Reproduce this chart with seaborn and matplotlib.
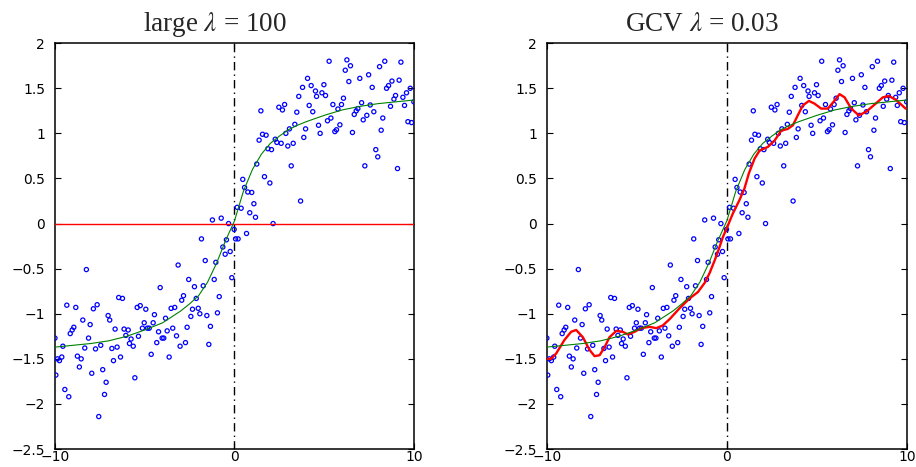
import numpy as np
import pandas as pd
import matplotlib
matplotlib.use("Agg")
import matplotlib.pyplot as plt
import seaborn as sns

# ---------------- data ----------------
pts_x = [
    -8.25, -9.34, -8.84, -7.65, -7.86, -6.45, -6.24, -5.42, -5.25, -4.94,
    -7.04, -6.95, -8.45, -8.04, -8.95, -9.04, -9.15, -10.0, -9.56, -8.13,
    -6.65, -6.15, -5.92, -5.03, -5.13, -4.85, -6.05, -5.35, -5.76, -5.85,
    -5.64, -7.45, -8.34, -7.74, -6.83, -6.54, -9.86, -9.75, -9.62, -8.75,
    -8.54, -6.35, -6.74, -8.64, -7.34, -7.95, -9.95, -7.15, -5.55, -9.45,
    -9.23, -7.24, -7.56,
    -1.23, -0.74, -0.33, -0.02, 0.20, 0.06, -1.84, -0.45, -0.65, -0.24,
    -0.52, -1.63, -1.04, -3.14, -0.15, -2.55, -1.13, -4.14, -2.23, -1.74,
    -2.84, -0.85, -2.94, -2.13, -3.53, -3.33, -2.34, -2.02, -0.95, -4.46,
    -1.93, -1.54, -3.84, -2.43, -4.53, -4.75, -4.23, -3.75, -3.44, -2.64,
    -1.34, -3.23, -4.03, -3.94, -4.33, -2.73, -3.03, -1.43, -4.64, -3.64,
    2.79, 2.47, 2.67, 1.47, 3.47, 4.16, 4.36, 3.36, 4.68, 3.96,
    3.06, 2.86, 1.56, 1.76, 4.77, 3.86, 2.27, 1.37, 2.36, 2.60,
    3.27, 2.97, 1.86, 2.06, 1.24, 3.16, 1.67, 0.46, 1.97, 0.56,
    0.74, 0.96, 3.68, 1.08, 0.15, 0.37, 0.85, 1.17, 2.15, 0.67,
    5.27, 6.26, 6.46, 6.17, 8.37, 8.08, 9.27, 7.47, 6.37, 6.98,
    4.98, 8.77, 9.17, 8.58, 8.47, 7.67, 9.79, 4.51, 4.87, 4.57,
    5.07, 6.07, 8.97, 8.88, 9.38, 9.58, 9.99, 7.08, 5.48, 5.96,
    7.56, 9.47, 8.69, 6.87, 5.76, 6.78, 7.76, 6.67, 7.37, 8.26,
    5.37, 5.18, 7.17, 9.66, 9.86, 5.87, 5.68, 5.59, 6.57, 8.17,
    7.87, 7.98, 7.26, 9.08, 4.07, 3.79, 4.27, 3.58,
]
pts_y = [
    -0.51, -0.905, -0.93, -0.90, -0.945, -0.82, -0.83, -0.93, -0.91, -0.95,
    -1.02, -1.07, -1.07, -1.12, -1.15, -1.18, -1.22, -1.27, -1.36, -1.27,
    -1.17, -1.17, -1.18, -1.10, -1.16, -1.16, -1.24, -1.25, -1.28, -1.33,
    -1.36, -1.35, -1.38, -1.39, -1.385, -1.37, -1.50, -1.52, -1.48, -1.47,
    -1.50, -1.48, -1.52, -1.59, -1.62, -1.66, -1.68, -1.76, -1.71, -1.84,
    -1.92, -1.895, -2.14,
    0.04, 0.06, 0.00, -0.065, -0.17, -0.17, -0.17, -0.18, -0.26, -0.31,
    -0.34, -0.41, -0.43, -0.46, -0.60, -0.62, -0.62, -0.71, -0.70, -0.69,
    -0.80, -0.81, -0.85, -0.83, -0.94, -0.93, -0.95, -0.94, -0.99, -1.01,
    -1.00, -1.02, -1.05, -1.03, -1.10, -1.16, -1.20, -1.19, -1.16, -1.15,
    -1.14, -1.245, -1.27, -1.27, -1.32, -1.32, -1.36, -1.34, -1.45, -1.48,
    1.32, 1.29, 1.26, 1.25, 1.235, 1.31, 1.24, 1.10, 1.09, 1.05,
    1.05, 1.00, 0.99, 0.98, 1.00, 0.955, 0.935, 0.925, 0.90, 0.89,
    0.89, 0.86, 0.83, 0.82, 0.66, 0.64, 0.52, 0.49, 0.45, 0.40,
    0.35, 0.345, 0.25, 0.22, 0.18, 0.17, 0.12, 0.07, 0.00, -0.11,
    1.80, 1.815, 1.75, 1.70, 1.80, 1.74, 1.79, 1.65, 1.575, 1.61,
    1.54, 1.58, 1.59, 1.53, 1.50, 1.51, 1.50, 1.47, 1.45, 1.41,
    1.42, 1.39, 1.42, 1.38, 1.40, 1.45, 1.35, 1.34, 1.32, 1.32,
    1.315, 1.31, 1.30, 1.275, 1.27, 1.25, 1.24, 1.21, 1.20, 1.17,
    1.17, 1.14, 1.15, 1.13, 1.12, 1.095, 1.04, 1.02, 1.01, 1.035,
    0.82, 0.74, 0.64, 0.61, 1.61, 1.51, 1.53, 1.41,
]

true_x = [-10, -9, -8, -7, -6, -5, -4, -3, -2.5, -2, -1.5, -1, -0.5, 0,
          0.5, 1, 1.5, 2, 2.5, 3, 3.5, 4, 5, 6, 7, 8, 9, 10]
true_y = [-1.37, -1.35, -1.33, -1.30, -1.25, -1.18, -1.10, -0.97, -0.89, -0.80,
          -0.65, -0.44, -0.19, 0.03, 0.36, 0.60, 0.77, 0.89, 0.97, 1.04,
          1.09, 1.13, 1.20, 1.26, 1.30, 1.33, 1.35, 1.37]

fit_large_x = [-10, 10]
fit_large_y = [0.0, 0.0]

fit_gcv_x = [-10.0, -9.76, -9.48, -9.02, -8.65, -8.37, -8.0, -7.63, -7.35, -7.07,
             -6.79, -6.52, -6.14, -5.78, -5.5, -5.13, -4.76, -4.29, -3.92, -3.56,
             -3.18, -2.63, -2.07, -1.61, -1.24, -0.96, -0.68, -0.44, -0.22, 0.06,
             0.33, 0.70, 0.98, 1.22, 1.54, 1.82, 2.28, 2.65, 3.02, 3.39,
             3.67, 3.94, 4.22, 4.56, 4.87, 5.24, 5.61, 5.93, 6.26, 6.54,
             6.91, 7.33, 7.74, 8.21, 8.67, 9.0, 9.41, 9.93]
fit_gcv_y = [-1.50, -1.50, -1.44, -1.29, -1.20, -1.18, -1.26, -1.40, -1.47, -1.46,
             -1.37, -1.26, -1.19, -1.20, -1.23, -1.20, -1.16, -1.145, -1.16, -1.13,
             -1.06, -0.94, -0.83, -0.76, -0.66, -0.55, -0.41, -0.28, -0.15, -0.02,
             0.11, 0.26, 0.39, 0.555, 0.72, 0.81, 0.85, 0.92, 1.03, 1.05,
             1.09, 1.20, 1.31, 1.36, 1.33, 1.275, 1.275, 1.35, 1.435, 1.40,
             1.275, 1.20, 1.24, 1.32, 1.40, 1.415, 1.37, 1.275]

titles = [r"large $\lambda$ = 100", r"GCV $\lambda$ = 0.03"]
x_ticks = [-10, 0, 10]
y_ticks = [-2.5, -2, -1.5, -1, -0.5, 0, 0.5, 1, 1.5, 2]

# ---------------- plot ----------------
sns.set_style("ticks")
plt.rcParams["font.family"] = ["DejaVu Sans"]
plt.rcParams["mathtext.fontset"] = "stix"

pts = pd.DataFrame({"x": pts_x, "y": pts_y})
truth = pd.DataFrame({"x": true_x, "y": true_y})
fits = [pd.DataFrame({"x": fit_large_x, "y": fit_large_y}),
        pd.DataFrame({"x": fit_gcv_x, "y": fit_gcv_y})]
fit_lw = [1.0, 1.7]
title_x = [0.446, 0.431]

fig = plt.figure(figsize=(9.16, 4.67), dpi=100)
axes = [fig.add_axes([0.060, 0.0385, 0.392, 0.869]),
        fig.add_axes([0.597, 0.0385, 0.393, 0.869])]

def fmt(v):
    s = ("%g" % v)
    return s.replace("-", "\u2212")

for ax, title, fit, lw, tx in zip(axes, titles, fits, fit_lw, title_x):
    ax.axvline(0, color="black", lw=1.0, ls=(0, (6, 3, 1, 3)), zorder=1)
    sns.scatterplot(data=pts, x="x", y="y", ax=ax, marker="o", s=9,
                    facecolors="none", edgecolor="#0000ff", linewidth=0.9,
                    zorder=3)
    sns.lineplot(data=fit, x="x", y="y", ax=ax, color="#ff0000", lw=lw,
                 sort=False, estimator=None, zorder=4)
    sns.lineplot(data=truth, x="x", y="y", ax=ax, color="#008000", lw=0.8,
                 sort=False, estimator=None, zorder=5)
    ax.set_xlim(-10, 10)
    ax.set_ylim(-2.5, 2)
    ax.set_xticks(x_ticks)
    ax.set_yticks(y_ticks)
    ax.set_xticklabels([fmt(v) for v in x_ticks])
    ax.set_yticklabels([fmt(v) for v in y_ticks])
    ax.set_xlabel("")
    ax.set_ylabel("")
    for sp in ax.spines.values():
        sp.set_visible(True)
        sp.set_linewidth(1.1)
        sp.set_color("black")
    ax.tick_params(direction="in", length=4.5, width=0.8, top=True, right=True,
                   labelsize=10, colors="black")
    ax.tick_params(axis="y", pad=7)
    ax.tick_params(axis="x", pad=1)
    ax.set_title(title, fontsize=19.5, family="Liberation Serif", pad=9, x=tx)

fig.savefig("out.png", dpi=100)
